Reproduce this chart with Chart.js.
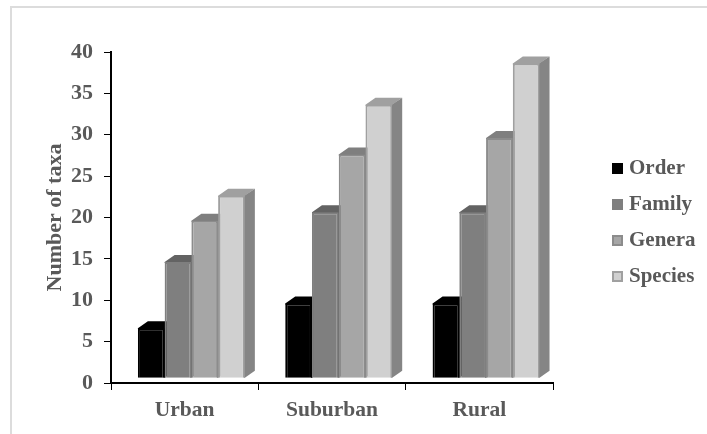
<!DOCTYPE html>
<html><head><meta charset="utf-8">
<style>
html,body{margin:0;padding:0;background:#fff;overflow:hidden}
#w{position:relative;width:707px;height:434px}
#t{position:absolute;left:10px;top:6px;width:697px;height:2px;background:#dcdcdc}
#l{position:absolute;left:10px;top:6px;width:2px;height:428px;background:#dcdcdc}
canvas{position:absolute;left:0;top:0}
</style>
<script src="https://cdn.jsdelivr.net/npm/chart.js@4/dist/chart.umd.min.js"></script>
</head><body><div id="w"><canvas id="c" width="707" height="434"></canvas><div id="t"></div><div id="l"></div></div>
<script>
const categories=["Urban","Suburban","Rural"];
const order=[6.5,9.5,9.5];
const family=[14.5,20.5,20.5];
const genera=[19.5,27.5,29.5];
const species=[22.5,33.5,38.5];
const yTicks=[0,5,10,15,20,25,30,35,40];
const FONT='"Liberation Serif","Times New Roman",serif';
const TXT='#595959';
const styles=[
 {label:'Order',data:order,front:'#000000',edge:'#000000',top:'#000000',side:'#000000'},
 {label:'Family',data:family,front:'#7f7f7f',edge:'#7f7f7f',top:'#636363',side:'#636363'},
 {label:'Genera',data:genera,front:'#a6a6a6',edge:'#8c8c8c',top:'#7f7f7f',side:'#7f7f7f'},
 {label:'Species',data:species,front:'#d0d0d0',edge:'#a0a0a0',top:'#a0a0a0',side:'#858585'}
];
const DX=10,DY=7,SHIFT=6.7;
function swatch(s){
 const c=document.createElement('canvas');c.width=11;c.height=11;
 const g=c.getContext('2d');g.fillStyle=s.edge;g.fillRect(0,0,11,11);
 g.fillStyle=s.front;g.fillRect(2,2,7,7);return c;
}
const depth={id:'depth',
 afterLayout(ch){
  const L=ch.legend;const dx=601.5-L.left,dy=-15;
  L.left+=dx;L.right+=dx;L.top+=dy;L.bottom+=dy;
 },
 beforeDatasetsDraw(ch){
 const g=ch.ctx;
 g.save();g.translate(SHIFT,-1);
 ch.data.datasets.forEach((d,i)=>{
  ch.getDatasetMeta(i).data.forEach(b=>{
   const p=b.getProps(['x','y','base','width'],true);
   const L=p.x-p.width/2,R=p.x+p.width/2,T=p.y,B=p.base;
   const s=styles[i];
   g.fillStyle=s.side;g.beginPath();g.moveTo(R-1,T);g.lineTo(R+DX,T-DY);g.lineTo(R+DX,B-DY);g.lineTo(R,B);g.lineTo(R-1,B);g.closePath();g.fill();
   g.fillStyle=s.top;g.beginPath();g.moveTo(L,T+1);g.lineTo(L,T);g.lineTo(L+DX,T-DY);g.lineTo(R+DX,T-DY);g.lineTo(R,T);g.lineTo(R,T+1);g.closePath();g.fill();
  });
 });
 },
 afterDatasetsDraw(ch){ch.ctx.restore();}
};
new Chart(document.getElementById('c'),{
 type:'bar',
 data:{labels:categories,datasets:styles.map(s=>({label:s.label,data:s.data,backgroundColor:s.front,borderColor:s.edge,borderWidth:2,base:0.5,categoryPercentage:0.726,barPercentage:1}))},
 plugins:[depth],
 options:{responsive:false,animation:false,
  layout:{padding:{left:42,top:52,right:50,bottom:11}},
  plugins:{tooltip:{enabled:false},title:{display:false},
   legend:{position:'right',align:'center',labels:{font:{family:FONT,size:21,weight:'bold'},color:TXT,usePointStyle:true,pointStyleWidth:2,boxHeight:11,padding:15,
    generateLabels(ch){return styles.map((s,i)=>({text:s.label,pointStyle:swatch(s),fillStyle:s.front,strokeStyle:s.edge,lineWidth:0,datasetIndex:i,fontColor:TXT}));}}}},
  scales:{
   x:{grid:{display:true,drawOnChartArea:false,drawTicks:true,tickLength:7,offset:true,color:'#000'},border:{color:'#000',width:2},
      ticks:{font:{family:FONT,size:21.5,weight:'bold'},color:TXT,padding:8,maxRotation:0},
      afterFit(a){a.height=40}},
   y:{min:0,max:40,
      afterBuildTicks(a){a.ticks=yTicks.map(v=>({value:v}))},
      grid:{display:true,drawOnChartArea:false,tickLength:7,color:'#000'},border:{color:'#000',width:2},
      ticks:{font:{family:FONT,size:22,weight:'bold'},color:TXT,padding:11},
      title:{display:true,text:'Number of taxa',font:{family:FONT,size:22,weight:'bold'},color:TXT,padding:{top:0,bottom:4}},
      afterFit(a){a.width=69}}
  }
 }
});
</script></body></html>
